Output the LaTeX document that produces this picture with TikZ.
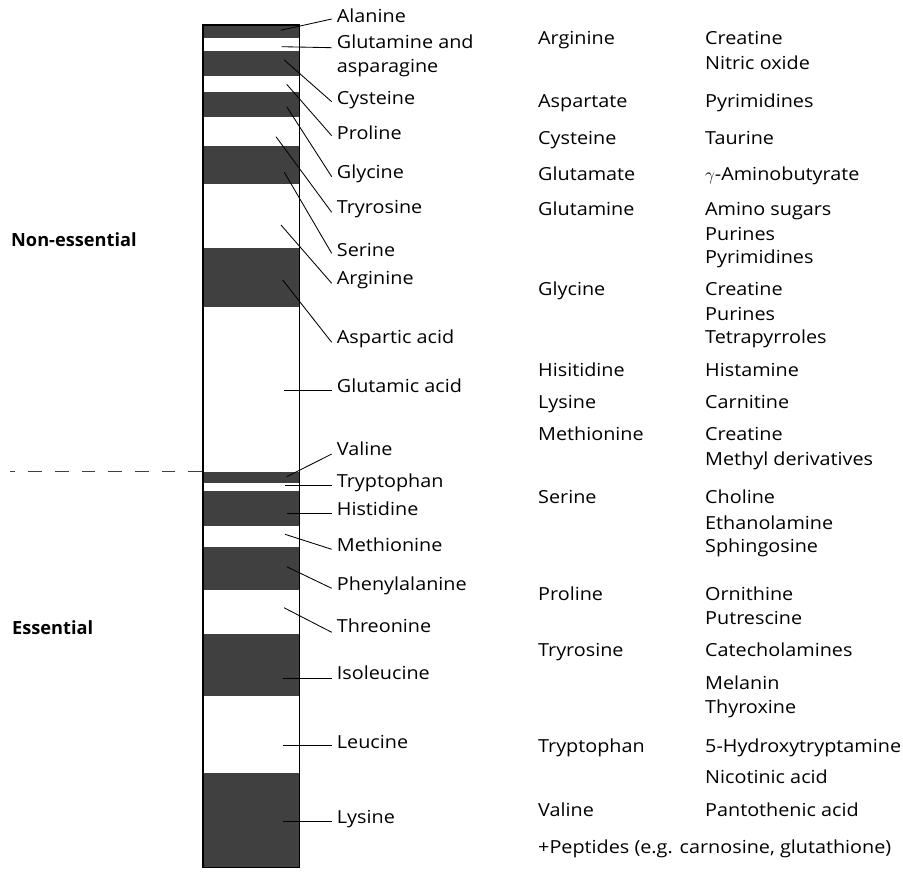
\documentclass[tikz,border=0pt]{standalone}
\usepackage{fontspec}
\setmainfont{Open Sans}[FakeStretch=1.1]
\newfontfamily\hdrfont{Open Sans}
\definecolor{band}{RGB}{64,64,64}
\tikzset{
  lbl/.style={anchor=base west, inner sep=0pt, font=\fontsize{18}{21}\selectfont},
  hdr/.style={anchor=base west, inner sep=0pt, font=\hdrfont\fontsize{18.2}{21}\selectfont\bfseries},
  leader/.style={draw=black, line width=0.85pt},
  darkband/.style={fill=band, draw=none},
}
\begin{document}
\begin{tikzpicture}[x=1pt,y=-1pt]
\useasboundingbox (0,0) rectangle (903,892);
% bands
\fill[darkband] (202,24) rectangle (298.7,37.7);
\fill[darkband] (202,51) rectangle (298.7,76);
\fill[darkband] (202,91.7) rectangle (298.7,116.7);
\fill[darkband] (202,146) rectangle (298.7,184);
\fill[darkband] (202,248.3) rectangle (298.7,306.7);
\fill[darkband] (202,472.3) rectangle (298.7,482.7);
\fill[darkband] (202,491) rectangle (298.7,525.7);
\fill[darkband] (202,547) rectangle (298.7,590);
\fill[darkband] (202,634) rectangle (298.7,695.7);
\fill[darkband] (202,773) rectangle (298.7,866.7);
\node[draw=black, line width=1.5pt, minimum width=96.7pt, minimum height=842.7pt, inner sep=0pt, anchor=north west] (bar) at (202,24) {};
% dashed divider
\coordinate (dashend) at (10,471.7);
\draw[band, line width=1.4pt, dash pattern=on 13.7pt off 13pt] (bar.west |- dashend) -- (dashend);
% group headers
\node[hdr] (noness) at (11,246.7) {Non-essential};
\node[hdr] (ess) at (12,634) {Essential};
% bar labels
\node[lbl] (lAla) at (336.7,22.7) {Alanine};
\node[lbl] (lGln) at (336.7,48) {Glutamine and};
\node[lbl] (lGln2) at (336.7,72) {asparagine};
\node[lbl] (lCys) at (336.7,104) {Cysteine};
\node[lbl] (lPro) at (336.7,139) {Proline};
\node[lbl] (lGly) at (336.7,178) {Glycine};
\node[lbl] (lTyr) at (336.7,213) {Tryrosine};
\node[lbl] (lSer) at (336.7,256) {Serine};
\node[lbl] (lArg) at (336.7,284) {Arginine};
\node[lbl] (lAsp) at (336.7,343) {Aspartic acid};
\node[lbl] (lGlu) at (336.7,392) {Glutamic acid};
\node[lbl] (lVal) at (336.7,455) {Valine};
\node[lbl] (lTrp) at (336.7,487) {Tryptophan};
\node[lbl] (lHis) at (336.7,515) {Histidine};
\node[lbl] (lMet) at (336.7,551) {Methionine};
\node[lbl] (lPhe) at (336.7,590) {Phenylalanine};
\node[lbl] (lThr) at (336.7,632) {Threonine};
\node[lbl] (lIle) at (336.7,679) {Isoleucine};
\node[lbl] (lLeu) at (336.7,748) {Leucine};
\node[lbl] (lLys) at (336.7,823) {Lysine};
% leader start points (inside bar) and end points (at labels)
\coordinate (sAla) at (280.7,30.3);  \coordinate (eAla) at (331.7,19);
\coordinate (sGln) at (281.7,46.7);  \coordinate (eGln) at (331.7,47.7);
\coordinate (sCys) at (284.3,60);    \coordinate (eCys) at (331.7,101.7);
\coordinate (sPro) at (286.7,84.3);  \coordinate (ePro) at (331.7,135.7);
\coordinate (sGly) at (286.7,106.7); \coordinate (eGly) at (331.7,176.7);
\coordinate (sTyr) at (276,136.7);   \coordinate (eTyr) at (331.7,212.3);
\coordinate (sSer) at (284.3,172.3); \coordinate (eSer) at (331.7,253.3);
\coordinate (sArg) at (281,225);     \coordinate (eArg) at (331.7,283.3);
\coordinate (sAsp) at (282.7,280);   \coordinate (eAsp) at (331.7,342.3);
\coordinate (sGlu) at (284.3,390.3); \coordinate (eGlu) at (331.7,390.3);
\coordinate (sVal) at (286.7,476.7); \coordinate (eVal) at (331.7,454);
\coordinate (sTrp) at (285,485);     \coordinate (eTrp) at (331.7,485);
\coordinate (sHis) at (286.7,513.3); \coordinate (eHis) at (331.7,513.3);
\coordinate (sMet) at (285,534.3);   \coordinate (eMet) at (331.7,549.3);
\coordinate (sPhe) at (286.7,566.7); \coordinate (ePhe) at (331.7,588.3);
\coordinate (sThr) at (284,607.7);   \coordinate (eThr) at (331.7,632.3);
\coordinate (sIle) at (282.7,678.7); \coordinate (eIle) at (331.7,678.7);
\coordinate (sLeu) at (282.7,745.3); \coordinate (eLeu) at (331.7,745.3);
\coordinate (sLys) at (282.7,821);   \coordinate (eLys) at (331.7,821);
\foreach \n in {Ala,Gln,Cys,Pro,Gly,Tyr,Ser,Arg,Asp,Glu,Val,Trp,His,Met,Phe,Thr,Ile,Leu,Lys}
  \draw[leader] (s\n) -- (e\n);
% right table: precursor
\node[lbl] (pArg) at (538,44) {Arginine};
\node[lbl] (pAsp) at (538,107) {Aspartate};
\node[lbl] (pCys) at (538,144) {Cysteine};
\node[lbl] (pGlu) at (538,180) {Glutamate};
\node[lbl] (pGln) at (538,215) {Glutamine};
\node[lbl] (pGly) at (538,295) {Glycine};
\node[lbl] (pHis) at (538,376) {Hisitidine};
\node[lbl] (pLys) at (538,408) {Lysine};
\node[lbl] (pMet) at (538,440) {Methionine};
\node[lbl] (pSer) at (538,503) {Serine};
\node[lbl] (pPro) at (538,600) {Proline};
\node[lbl] (pTyr) at (538,656) {Tryrosine};
\node[lbl] (pTrp) at (538,752) {Tryptophan};
\node[lbl] (pVal) at (538,816) {Valine};
% right table: products
\node[lbl] (d1) at (705,44) {Creatine};
\node[lbl] (d2) at (705,69) {Nitric oxide};
\node[lbl] (d3) at (705,107) {Pyrimidines};
\node[lbl] (d4) at (705,144) {Taurine};
\node[lbl] (d5) at (705,180) {$\gamma$-Aminobutyrate};
\node[lbl] (d6) at (705,215) {Amino sugars};
\node[lbl] (d7) at (705,240) {Purines};
\node[lbl] (d8) at (705,263) {Pyrimidines};
\node[lbl] (d9) at (705,295) {Creatine};
\node[lbl] (d10) at (705,320) {Purines};
\node[lbl] (d11) at (705,343) {Tetrapyrroles};
\node[lbl] (d12) at (705,376) {Histamine};
\node[lbl] (d13) at (705,408) {Carnitine};
\node[lbl] (d14) at (705,440) {Creatine};
\node[lbl] (d15) at (705,465) {Methyl derivatives};
\node[lbl] (d16) at (705,503) {Choline};
\node[lbl] (d17) at (705,529) {Ethanolamine};
\node[lbl] (d18) at (705,552) {Sphingosine};
\node[lbl] (d19) at (705,600) {Ornithine};
\node[lbl] (d20) at (705,624) {Putrescine};
\node[lbl] (d21) at (705,656) {Catecholamines};
\node[lbl] (d22) at (705,689) {Melanin};
\node[lbl] (d23) at (705,713) {Thyroxine};
\node[lbl] (d24) at (705,752) {5-Hydroxytryptamine};
\node[lbl] (d25) at (705,783) {Nicotinic acid};
\node[lbl] (d26) at (705,816) {Pantothenic acid};
\node[lbl] (pep) at (538,853) {+Peptides (e.g. carnosine, glutathione)};
\end{tikzpicture}
\end{document}
